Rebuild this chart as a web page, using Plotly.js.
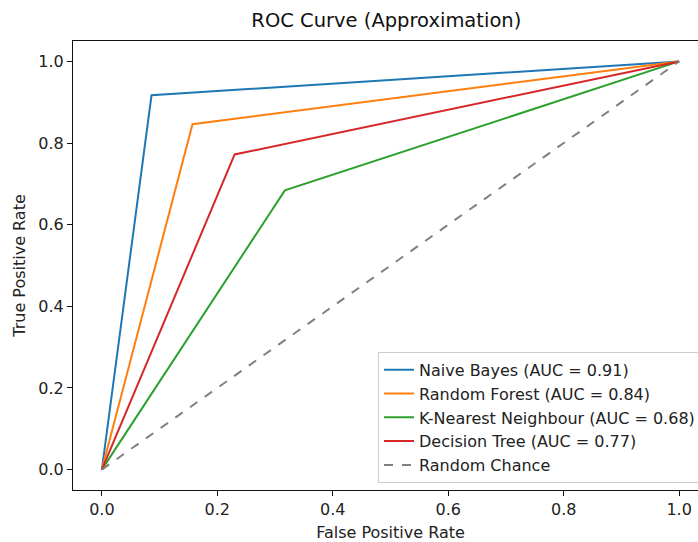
<!DOCTYPE html>
<html>
<head>
<meta charset="utf-8">
<script src="https://cdn.plot.ly/plotly-3.0.1.min.js"></script>
<style>
html,body{margin:0;padding:0;overflow:hidden;background:#fff;width:698px;height:542px;}
#chart{width:712px;height:542px;}
</style>
</head>
<body>
<div id="chart"></div>
<script>
var modelNames = ["Naive Bayes", "Random Forest", "K-Nearest Neighbour", "Decision Tree"];
var aucValues = [0.91, 0.84, 0.68, 0.77];
var fprNB = [0, 0.086, 1];
var tprNB = [0, 0.917, 1];
var fprRF = [0, 0.157, 1];
var tprRF = [0, 0.846, 1];
var fprKNN = [0, 0.317, 1];
var tprKNN = [0, 0.684, 1];
var fprDT = [0, 0.230, 1];
var tprDT = [0, 0.772, 1];
var chanceX = [0, 1];
var chanceY = [0, 1];
var tickVals = [0, 0.2, 0.4, 0.6, 0.8, 1.0];

var colors = ["#1f77b4", "#ff7f0e", "#2ca02c", "#d62728"];
var xs = [fprNB, fprRF, fprKNN, fprDT];
var ys = [tprNB, tprRF, tprKNN, tprDT];

var traces = [];
for (var i = 0; i < modelNames.length; i++) {
  traces.push({
    x: xs[i], y: ys[i], type: "scatter", mode: "lines",
    name: modelNames[i] + " (AUC = " + aucValues[i].toFixed(2) + ")",
    line: {color: colors[i], width: 2}
  });
}
traces.push({
  x: chanceX, y: chanceY, type: "scatter", mode: "lines",
  name: "Random Chance",
  line: {color: "#808080", width: 2, dash: "dash"}
});

var FS = 16;
var axisCommon = {
  showline: true, mirror: true, linecolor: "#111", linewidth: 1,
  ticks: "outside", ticklen: 5, tickwidth: 1, tickcolor: "#111",
  showgrid: false, zeroline: false,
  tickvals: tickVals, tickformat: ".1f",
  tickfont: {family: "DejaVu Sans", size: FS, color: "#222"},
  range: [-0.05, 1.05]
};

var layout = {
  width: 712, height: 542,
  margin: {l: 73, r: 4, t: 41, b: 52},
  paper_bgcolor: "#fff", plot_bgcolor: "#fff",
  font: {family: "DejaVu Sans", color: "#222"},
  title: {text: "ROC Curve (Approximation)", font: {family: "DejaVu Sans", size: 19.5, color: "#111"}, x: 0.5426, xanchor: "center", y: 0.962, yanchor: "middle"},
  xaxis: Object.assign({}, axisCommon, {title: {text: "False Positive Rate", font: {family: "DejaVu Sans", size: FS, color: "#222"}, standoff: 8}}),
  yaxis: Object.assign({}, axisCommon, {title: {text: "True Positive Rate", font: {family: "DejaVu Sans", size: FS, color: "#222"}, standoff: 8}}),
  showlegend: true,
  legend: {
    x: 0.989, xanchor: "right", y: 0.016, yanchor: "bottom",
    bgcolor: "rgba(255,255,255,0.8)", bordercolor: "#cccccc", borderwidth: 1,
    font: {family: "DejaVu Sans", size: FS, color: "#222"},
    tracegroupgap: 0
  }
};

Plotly.newPlot("chart", traces, layout, {displayModeBar: false, staticPlot: true});
</script>
</body>
</html>
